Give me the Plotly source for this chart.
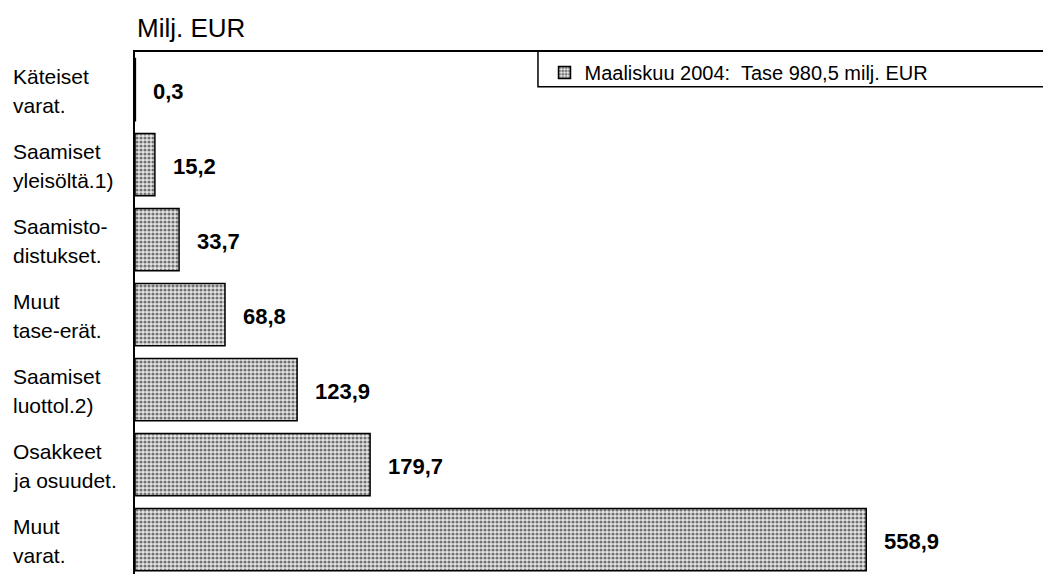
import plotly.graph_objects as go

categories = ["Käteiset<br>varat.", "Saamiset<br>yleisöltä.1)", "Saamisto-<br>distukset.",
              "Muut<br>tase-erät.", "Saamiset<br>luottol.2)", "Osakkeet<br>ja osuudet.",
              "Muut<br>varat."]
values = [0.3, 15.2, 33.7, 68.8, 123.9, 179.7, 558.9]
value_labels = ["0,3", "15,2", "33,7", "68,8", "123,9", "179,7", "558,9"]
series_name = "Maaliskuu 2004:  Tase 980,5 milj. EUR"
unit_title = "Milj. EUR"

FONT = "Liberation Sans, Arial, Helvetica"

fig = go.Figure()
fig.add_trace(go.Bar(
    y=categories, x=values, orientation="h", name=series_name,
    marker=dict(color="white", line=dict(color="black", width=1.5),
                pattern=dict(shape=".", fgcolor="#000000", bgcolor="#e6e6e6",
                             size=4, solidity=0.5)),
    showlegend=True,
))

annotations = []
for c, v, t in zip(categories, values, value_labels):
    annotations.append(dict(x=v, y=c, xref="x", yref="y", text=f"<b>{t}</b>",
                            showarrow=False, xanchor="left", yanchor="middle",
                            xshift=16, yshift=-2,
                            font=dict(size=22, color="black", family=FONT)))
    lines = c.split("<br>")
    for i, line in enumerate(lines):
        annotations.append(dict(x=-0.1366, y=c, xref="paper", yref="y", text=line,
                                showarrow=False, xanchor="left", yanchor="middle",
                                align="left", yshift=(13 if i == 0 else -16),
                                font=dict(size=21, color="black", family=FONT)))
annotations.append(dict(x=0, y=1, xref="paper", yref="paper", text=unit_title,
                        showarrow=False, xanchor="left", yanchor="middle", yshift=24,
                        font=dict(size=26, color="black", family=FONT)))

# legend frame (extends past the right edge as in the reference)
legend_frame = dict(type="rect", xref="paper", yref="paper", x0=0.4438, x1=1.05,
                    y0=0.9334, y1=1.002, line=dict(color="black", width=1.5),
                    fillcolor="rgba(0,0,0,0)", layer="above")

fig.update_layout(
    width=1043, height=574,
    margin=dict(l=135, r=0, t=52, b=0),
    plot_bgcolor="white", paper_bgcolor="white",
    bargap=0.17,
    annotations=annotations,
    shapes=[legend_frame],
    xaxis=dict(range=[0, 694], side="top", showline=True, linecolor="black", linewidth=2,
               showgrid=False, zeroline=False, showticklabels=False, ticks=""),
    yaxis=dict(categoryorder="array", categoryarray=categories, range=[6.46, -0.5],
               showline=True, linecolor="black", linewidth=2, showgrid=False,
               showticklabels=False, ticks=""),
    legend=dict(x=0.451, xanchor="left", y=0.998, yanchor="top",
                bgcolor="rgba(0,0,0,0)", borderwidth=0,
                font=dict(size=20, color="black", family=FONT)),
)

fig.write_html("out.html", config={"displayModeBar": False},
               post_script="document.body.style.margin='0';")
